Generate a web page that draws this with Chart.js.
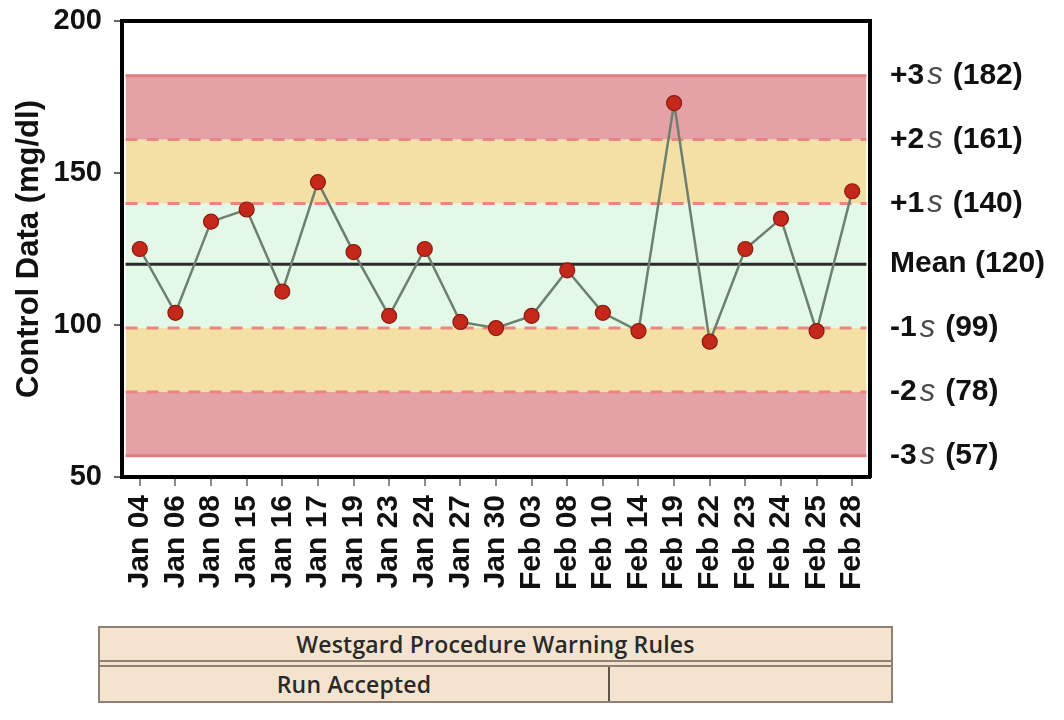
<!DOCTYPE html>
<html><head><meta charset="utf-8">
<script src="https://cdn.jsdelivr.net/npm/chart.js@4"></script>
<style>
body{margin:0;background:#fff;}
#wrap{position:relative;width:1064px;height:720px;overflow:hidden;}
#c{position:absolute;left:0;top:0;}
#tbl{position:absolute;left:98px;top:626px;width:791px;height:73px;background:#F4E4CF;border:2px solid #8e8174;font-family:"Open Sans",sans-serif;font-weight:600;font-size:23px;letter-spacing:0.2px;color:#2a2a2a;}
#r1{height:32px;line-height:32px;text-align:center;}
#r2{height:34px;display:flex;border-top:7px double #8e8174;}
#r2 div{line-height:34px;text-align:center;}
#c1{width:508px;border-right:2px solid #5f554c;}
#c2{flex:1;}
</style></head><body>
<div id="wrap"><canvas id="c" width="1064" height="720"></canvas>
<div id="tbl"><div id="r1">Westgard Procedure Warning Rules</div><div id="r2"><div id="c1">Run Accepted</div><div id="c2"></div></div></div></div>
<script>
const categories = ['Jan 04','Jan 06','Jan 08','Jan 15','Jan 16','Jan 17','Jan 19','Jan 23','Jan 24','Jan 27','Jan 30','Feb 03','Feb 08','Feb 10','Feb 14','Feb 19','Feb 22','Feb 23','Feb 24','Feb 25','Feb 28'];
const values = [125,104,134,138,111,147,124,103,125,101,99,103,118,104,98,173,94.5,125,135,98,144];
const limitValues = [182,161,140,120,99,78,57];
const limitLabels = ['+3','+2','+1','Mean','-1','-2','-3'];
const yTicks = [50,100,150,200];

const FONT = '"Liberation Sans", Arial, Helvetica, sans-serif';
Chart.defaults.font.family = FONT;
Chart.defaults.color = '#111';

const n = categories.length;
const bandFrom = -0.4, bandTo = n - 1 + 0.4;
const lineData = v => [{x: bandFrom, y: v}, {x: bandTo, y: v}];

const RED = 'rgba(226,152,156,0.9)';
const YEL = 'rgba(243,219,154,0.9)';
const GRN = 'rgba(228,248,232,1)';
const bandFill = {182: RED, 161: YEL, 140: GRN, 99: YEL, 78: RED};

const bandLevels = limitValues.filter(v => v !== 120);
const datasets = [];
bandLevels.forEach((v, i) => {
  const solid = (i === 0 || i === bandLevels.length - 1);
  datasets.push({
    label: 'limit ' + v,
    data: lineData(v),
    borderColor: solid ? '#e07d80' : '#ea8584',
    borderWidth: 3,
    borderDash: solid ? [] : [12, 9],
    pointRadius: 0,
    fill: i < bandLevels.length - 1 ? {target: i + 1} : false,
    backgroundColor: bandFill[v] || 'transparent',
    order: 3
  });
});
datasets.push({
  label: 'mean',
  data: lineData(limitValues[3]),
  borderColor: '#2b2b2b',
  borderWidth: 3,
  pointRadius: 0,
  fill: false,
  order: 2
});
datasets.push({
  label: 'Control Data',
  data: values.map((v, i) => ({x: i, y: v})),
  borderColor: '#6d8070',
  borderWidth: 2.5,
  pointRadius: 7.5,
  pointBackgroundColor: '#c4281b',
  pointBorderColor: '#8a1a10',
  pointBorderWidth: 1.2,
  fill: false,
  order: 0
});

const rightLabels = {
  id: 'rightLabels',
  afterDraw(chart) {
    const {ctx, chartArea, scales: {y}} = chart;
    const x0 = chartArea.right + 20;
    ctx.save();
    ctx.textBaseline = 'middle';
    ctx.textAlign = 'left';
    limitValues.forEach((v, i) => {
      const py = y.getPixelForValue(v);
      const lab = limitLabels[i];
      let x = x0;
      const bold = 'bold 30px ' + FONT;
      if (lab === 'Mean') {
        ctx.font = bold; ctx.fillStyle = '#111';
        ctx.fillText('Mean (' + v + ')', x, py);
        return;
      }
      ctx.font = bold; ctx.fillStyle = '#111';
      ctx.fillText(lab, x, py); x += ctx.measureText(lab).width + 3;
      ctx.font = 'italic 31px ' + FONT; ctx.fillStyle = '#4a4a4a';
      ctx.fillText('s', x, py); x += ctx.measureText('s').width + 10;
      ctx.font = bold; ctx.fillStyle = '#111';
      ctx.fillText('(' + v + ')', x, py);
    });
    ctx.restore();
  }
};

new Chart(document.getElementById('c'), {
  type: 'line',
  data: {datasets},
  options: {
    responsive: false,
    animation: false,
    layout: {padding: 0},
    plugins: {legend: {display: false}, tooltip: {enabled: false}, filler: {drawTime: 'beforeDatasetsDraw'}},
    scales: {
      x: {
        type: 'linear', position: 'bottom', min: -0.5, max: n - 0.5,
        afterBuildTicks: s => { s.ticks = categories.map((_, i) => ({value: i})); },
        afterFit: s => { s.height = 243; s.paddingLeft = 0; s.paddingRight = 0; },
        ticks: {autoSkip: false, minRotation: 90, maxRotation: 90, padding: 9,
          font: {size: 30, weight: 'bold'}, color: '#111',
          callback: v => categories[v]},
        grid: {display: true, drawOnChartArea: false, drawTicks: true, tickLength: 9, color: '#8a8a8a', lineWidth: 2},
        border: {display: true, color: '#000', width: 4}
      },
      x2: {
        type: 'linear', position: 'top', min: -0.5, max: n - 0.5,
        afterFit: s => { s.height = 21; },
        ticks: {display: false},
        grid: {display: false},
        border: {display: true, color: '#000', width: 4}
      },
      y: {
        type: 'linear', position: 'left', min: 50, max: 200,
        afterBuildTicks: s => { s.ticks = yTicks.map(v => ({value: v})); },
        afterFit: s => { s.width = 122; s.paddingTop = 0; s.paddingBottom = 0; },
        ticks: {font: {size: 29, weight: 'bold'}, color: '#111', padding: 12},
        grid: {display: true, drawOnChartArea: false, drawTicks: true, tickLength: 8, color: '#666', lineWidth: 2},
        border: {display: true, color: '#000', width: 4},
        title: {display: true, text: 'Control Data (mg/dl)', font: {size: 31, weight: 'bold'}, color: '#111', padding: {top: 11}}
      },
      y2: {
        type: 'linear', position: 'right', min: 50, max: 200,
        afterFit: s => { s.width = 194; s.paddingTop = 0; s.paddingBottom = 0; },
        ticks: {display: false},
        grid: {display: false},
        border: {display: true, color: '#000', width: 4}
      }
    }
  },
  plugins: [rightLabels]
});
</script>
</body></html>
